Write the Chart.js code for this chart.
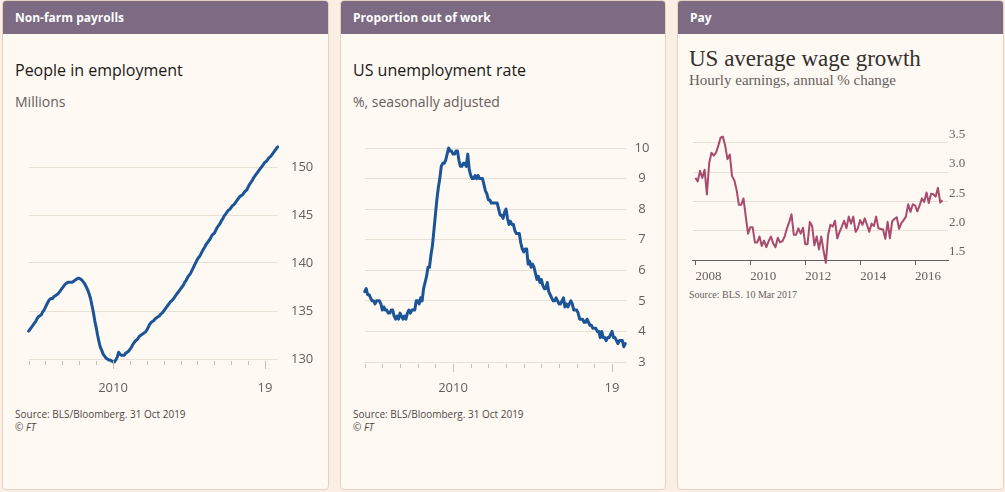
<!DOCTYPE html>
<html>
<head>
<meta charset="utf-8">
<script src="https://cdn.jsdelivr.net/npm/chart.js@4"></script>
<style>
  body { margin: 0; width: 1005px; height: 492px; background: #fbeee2; position: relative; overflow: hidden; font-family: "Open Sans", sans-serif; }
  .panel { position: absolute; top: 0; height: 488px; background: #fff9f3; border: 1px solid #e4d3c0; border-radius: 4px; overflow: hidden; }
  .head { height: 33px; background: #7c6b82; color: #fff; font-weight: bold; font-size: 12px; line-height: 33px; padding-left: 12px; }
  .txt { position: absolute; white-space: nowrap; }
  .title { font-size: 16px; color: #1a1817; line-height: 20px; }
  .sub { font-size: 14px; color: #66605c; line-height: 18px; }
  .src { font-size: 10px; color: #4d4845; line-height: 13px; }
  .serif { font-family: "Liberation Serif", serif; }
  canvas { position: absolute; }
</style>
</head>
<body>
<div class="panel" style="left:2px; width:325px;"><div class="head">Non-farm payrolls</div></div>
<div class="panel" style="left:340px; width:324px;"><div class="head">Proportion out of work</div></div>
<div class="panel" style="left:677px; width:325px;"><div class="head">Pay</div></div>

<div class="txt title" style="left:15px; top:60px;">People in employment</div>
<div class="txt sub" style="left:15px; top:93px;">Millions</div>
<div class="txt src" style="left:15px; top:408px;">Source: BLS/Bloomberg. 31 Oct 2019<br><i>© FT</i></div>

<div class="txt title" style="left:353px; top:60px;">US unemployment rate</div>
<div class="txt sub" style="left:353px; top:93px;">%, seasonally adjusted</div>
<div class="txt src" style="left:353px; top:408px;">Source: BLS/Bloomberg. 31 Oct 2019<br><i>© FT</i></div>

<div class="txt serif" style="left:689px; top:46px; font-size:23px; color:#33302e; line-height:26px;">US average wage growth</div>
<div class="txt serif" style="left:689px; top:71px; font-size:15px; color:#66605c; line-height:18px;">Hourly earnings, annual % change</div>
<div class="txt serif" style="left:689px; top:288px; font-size:10px; color:#66605c; line-height:13px;">Source: BLS. 10 Mar 2017</div>

<canvas id="c1" width="330" height="260" style="left:0px; top:140px;"></canvas>
<canvas id="c2" width="330" height="260" style="left:338px; top:140px;"></canvas>
<canvas id="c3" width="325" height="170" style="left:677px; top:125px;"></canvas>

<script>
// monthly data, Jan 2005 onwards
const startYear = 2005;
const payrolls = [
  132.9, 133.1, 133.3, 133.5, 133.7, 133.9, 134.2, 134.4, 134.5, 134.6, 134.9, 135.1,
  135.4, 135.7, 136.0, 136.2, 136.3, 136.3, 136.5, 136.6, 136.7, 136.8, 137.0, 137.2,
  137.4, 137.6, 137.8, 137.9, 138.0, 138.0, 138.0, 138.0, 138.1, 138.2, 138.3, 138.4,
  138.4, 138.3, 138.2, 138.0, 137.8, 137.5, 137.2, 136.8, 136.3, 135.6, 134.9, 134.0,
  133.3, 132.5, 131.8, 131.2, 130.9, 130.5, 130.3, 130.1, 130.0, 129.9, 129.9, 129.8,
  129.7, 129.7, 129.9, 130.2, 130.7, 130.5, 130.4, 130.4, 130.4, 130.6, 130.7, 130.8,
  131.0, 131.2, 131.5, 131.7, 131.9, 132.0, 132.2, 132.4, 132.5, 132.6, 132.7, 132.8,
  133.0, 133.3, 133.6, 133.8, 133.9, 134.0, 134.2, 134.3, 134.4, 134.5, 134.7, 134.8,
  135.0, 135.2, 135.4, 135.6, 135.8, 136.0, 136.1, 136.3, 136.5, 136.7, 136.9, 137.1,
  137.3, 137.5, 137.7, 138.0, 138.2, 138.5, 138.7, 138.9, 139.2, 139.5, 139.8, 140.1,
  140.4, 140.6, 140.8, 141.1, 141.4, 141.6, 141.9, 142.1, 142.3, 142.5, 142.8, 143.0,
  143.1, 143.4, 143.7, 143.9, 144.1, 144.4, 144.6, 144.9, 145.1, 145.3, 145.5, 145.6,
  145.8, 146.0, 146.1, 146.3, 146.5, 146.7, 146.9, 147.0, 147.1, 147.3, 147.5, 147.6,
  147.9, 148.2, 148.4, 148.6, 148.9, 149.1, 149.3, 149.5, 149.7, 149.9, 150.1, 150.3,
  150.5, 150.6, 150.8, 151.0, 151.1, 151.3, 151.5, 151.7, 151.9, 152.1
];
const unemployment = [
  5.3, 5.4, 5.2, 5.2, 5.1, 5.0, 5.0, 4.9, 5.0, 5.0, 5.0, 4.9,
  4.7, 4.8, 4.7, 4.7, 4.6, 4.6, 4.7, 4.7, 4.5, 4.4, 4.5, 4.4,
  4.6, 4.5, 4.4, 4.5, 4.4, 4.6, 4.7, 4.6, 4.7, 4.7, 4.7, 5.0,
  5.0, 4.9, 5.1, 5.0, 5.4, 5.6, 5.8, 6.1, 6.1, 6.5, 6.8, 7.3,
  7.8, 8.3, 8.7, 9.0, 9.4, 9.5, 9.5, 9.6, 9.8, 10.0, 9.9, 9.9,
  9.8, 9.8, 9.9, 9.9, 9.6, 9.4, 9.4, 9.5, 9.5, 9.4, 9.8, 9.3,
  9.1, 9.0, 9.0, 9.1, 9.0, 9.1, 9.0, 9.0, 9.0, 8.8, 8.6, 8.5,
  8.3, 8.3, 8.2, 8.2, 8.2, 8.2, 8.2, 8.0, 7.8, 7.8, 7.7, 7.9,
  8.0, 7.7, 7.5, 7.6, 7.5, 7.5, 7.3, 7.2, 7.2, 7.2, 6.9, 6.7,
  6.6, 6.7, 6.7, 6.2, 6.3, 6.1, 6.2, 6.1, 5.9, 5.7, 5.8, 5.6,
  5.7, 5.5, 5.4, 5.4, 5.6, 5.3, 5.2, 5.1, 5.0, 5.0, 5.1, 5.0,
  4.9, 4.9, 5.0, 5.1, 4.8, 4.9, 4.8, 4.9, 5.0, 4.9, 4.7, 4.7,
  4.7, 4.6, 4.4, 4.4, 4.4, 4.3, 4.3, 4.4, 4.3, 4.2, 4.2, 4.1,
  4.1, 4.1, 4.0, 4.0, 3.8, 4.0, 3.8, 3.8, 3.7, 3.8, 3.8, 3.9,
  4.0, 3.8, 3.8, 3.7, 3.6, 3.7, 3.7, 3.7, 3.5, 3.6
];
// monthly data, Jan 2008 onwards
const wageStartYear = 2008;
const wageGrowth = [
  2.90, 2.84, 3.02, 2.90, 3.04, 2.62, 3.15, 3.33, 3.28, 3.33, 3.45, 3.59,
  3.60, 3.45, 3.22, 3.30, 2.93, 2.86, 2.69, 2.44, 2.44, 2.55, 2.24, 1.95,
  2.06, 2.06, 1.80, 1.80, 1.90, 1.74, 1.83, 1.72, 1.82, 1.90, 1.78, 1.72,
  1.88, 1.80, 1.82, 1.90, 2.04, 2.15, 2.28, 1.93, 1.93, 2.04, 1.95, 2.05,
  1.77, 1.77, 2.15, 2.08, 1.75, 1.90, 1.68, 1.90, 1.66, 1.45, 1.93, 2.10,
  2.07, 2.17, 1.87, 1.98, 2.07, 2.17, 2.04, 2.24, 2.12, 2.24, 1.98, 2.04,
  2.18, 2.10, 2.21, 2.10, 1.98, 2.12, 2.08, 2.24, 2.04, 2.03, 2.02, 1.86,
  2.15, 1.87, 2.16, 2.20, 2.23, 2.03, 2.13, 2.18, 2.24, 2.45, 2.32, 2.45,
  2.43, 2.33, 2.43, 2.55, 2.49, 2.65, 2.47, 2.63, 2.62, 2.58, 2.73, 2.48,
  2.52
];
const payrollTicks = [130, 135, 140, 145, 150];
const unempTicks = [3, 4, 5, 6, 7, 8, 9, 10];
const wageTicks = [1.5, 2.0, 2.5, 3.0, 3.5];
const ftYearLabels = { 2010: '2010', 2019: '19' };
const wageYearLabels = [2008, 2010, 2012, 2014, 2016];

const toPoints = (arr, y0) => arr.map((v, i) => ({ x: y0 + i / 12, y: v }));

const FT_BLUE = '#1b5497';
const GRID = '#e8dfd5';
const LABEL = '#66605c';

// keep the chart area where the layout padding puts it
const noPadY = s => { s.paddingTop = 0; s.paddingBottom = 0; };
const noPadX = s => { s.paddingLeft = 0; s.paddingRight = 0; };

// small year ticks under the x axis, longer ones where there's a label
const yearTicks = {
  id: 'yearTicks',
  afterDraw(chart, args, opts) {
    if (!opts.on) return;
    const xs = chart.scales.x;
    const ctx = chart.ctx;
    const bottom = chart.chartArea.bottom;
    ctx.save();
    ctx.strokeStyle = '#c8bfb6';
    ctx.lineWidth = 1;
    for (let y = Math.ceil(xs.min); y <= xs.max; y++) {
      const px = Math.round(xs.getPixelForValue(y)) + 0.5;
      const long = ftYearLabels[y] !== undefined;
      ctx.beginPath();
      ctx.moveTo(px, bottom + 2);
      ctx.lineTo(px, bottom + (long ? 10 : 6));
      ctx.stroke();
    }
    ctx.restore();
  }
};

function ftChart(id, data, yTicks, yMax, opt) {
  return new Chart(document.getElementById(id), {
    type: 'line',
    data: { datasets: [{ data, borderColor: FT_BLUE, borderWidth: 3, pointRadius: 0, tension: 0,
      borderJoinStyle: 'round', borderCapStyle: 'round', clip: false }] },
    options: {
      responsive: false, animation: false, devicePixelRatio: 1,
      layout: { padding: opt.pad },
      plugins: { legend: { display: false }, tooltip: { enabled: false }, yearTicks: { on: true } },
      scales: {
        x: {
          type: 'linear', min: 2005, max: opt.xMax,
          grid: { display: false }, border: { display: false },
          afterBuildTicks: s => { s.ticks = [{ value: 2010 }, { value: 2019 }]; },
          afterFit: s => { s.height = opt.xH; noPadX(s); },
          ticks: { callback: v => ftYearLabels[v], color: LABEL, padding: opt.xPad,
            font: { family: 'Open Sans', size: 13 }, maxRotation: 0 }
        },
        y: {
          position: 'right', min: yTicks[0], max: yMax,
          grid: { color: GRID, drawTicks: false }, border: { display: false },
          afterBuildTicks: s => { s.ticks = yTicks.map(v => ({ value: v })); },
          afterFit: s => { s.width = opt.yW; noPadY(s); },
          ticks: { color: LABEL, padding: opt.yPad, crossAlign: opt.cross,
            font: { family: 'Open Sans', size: 13 } }
        }
      }
    },
    plugins: [yearTicks]
  });
}

ftChart('c1', toPoints(payrolls, startYear), payrollTicks, 152,
  { pad: { left: 28.6, top: 7.8, right: 0, bottom: 0 }, xMax: 2019.77, xH: 41, xPad: 13, yW: 52, yPad: 13, cross: 'near' });

ftChart('c2', toPoints(unemployment, startYear), unempTicks, 10,
  { pad: { left: 26.7, top: 8, right: 0, bottom: 0 }, xMax: 2019.79, xH: 38, xPad: 10, yW: 42, yPad: 8.5, cross: 'center' });

new Chart(document.getElementById('c3'), {
  type: 'line',
  data: { datasets: [{ data: toPoints(wageGrowth, wageStartYear), borderColor: '#a84b6c', borderWidth: 2,
    pointRadius: 0, tension: 0, borderJoinStyle: 'round', clip: false }] },
  options: {
    responsive: false, animation: false, devicePixelRatio: 1,
    layout: { padding: { left: 15.7, top: 17.7, right: 0, bottom: 0 } },
    plugins: { legend: { display: false }, tooltip: { enabled: false } },
    scales: {
      x: {
        type: 'linear', min: 2007.9, max: 2017.2,
        grid: { drawOnChartArea: false, tickLength: 5, tickColor: '#66605c' },
        border: { display: true, color: '#66605c', width: 1 },
        afterBuildTicks: s => { s.ticks = wageYearLabels.map(v => ({ value: v })); },
        afterFit: s => { s.height = 35; noPadX(s); },
        ticks: { callback: v => String(v), align: 'start', color: LABEL, padding: 4, maxRotation: 0,
          font: { family: 'Liberation Serif', size: 13 } }
      },
      y: {
        position: 'right', min: 1.5, max: 3.5,
        grid: { color: GRID, drawTicks: false }, border: { display: false },
        afterBuildTicks: s => { s.ticks = wageTicks.map(v => ({ value: v })); },
        afterFit: s => { s.width = 54; noPadY(s); },
        ticks: { callback: v => v.toFixed(1), color: LABEL, padding: 1, labelOffset: -8,
          font: { family: 'Liberation Serif', size: 13 } }
      }
    }
  }
});
</script>
</body>
</html>
